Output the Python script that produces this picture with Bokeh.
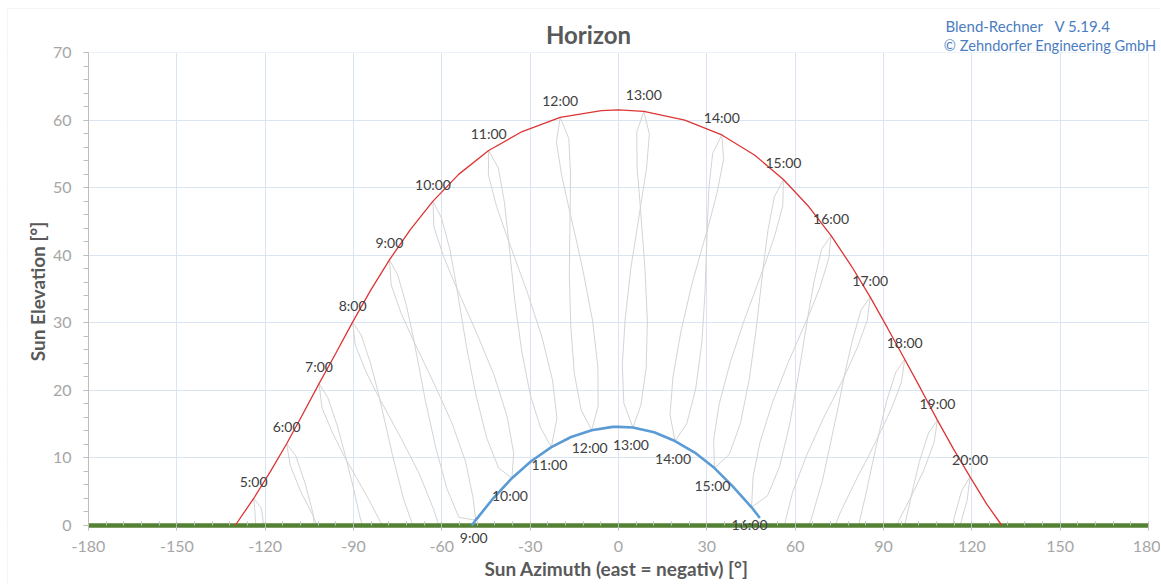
import math
from bokeh.plotting import figure
from bokeh.models import Range1d, SingleIntervalTicker, Label, ColumnDataSource, BoxAnnotation
from bokeh.embed import file_html
from bokeh.resources import INLINE
from bokeh.core.properties import value

# ---------------- data ----------------
x_ticks = [-180, -150, -120, -90, -60, -30, 0, 30, 60, 90, 120, 150, 180]
x_tick_labels = ["-180", "-150", "-120", "-90", "-60", "-30", "0", "30", "60", "90", "120", "150", "180"]

horizon_az = [-180, 180]
horizon_el = [0, 0]

# summer solstice sun path (red)
summer_az = [-130.2, -123.9, -118.2, -112.7, -107.2, -101.7, -96.0, -90.3, -84.2, -77.8, -70.7, -63.0,
             -54.2, -44.1, -32.7, -19.8, -5.8, 0.0, 8.6, 22.5, 35.1, 46.3, 56.0, 64.6, 72.2, 79.1,
             85.5, 91.4, 97.2, 102.8, 108.3, 113.8, 119.4, 125.0, 130.2]
summer_el = [0.0, 4.0, 8.0, 12.1, 16.5, 21.0, 25.5, 30.1, 34.8, 39.3, 43.8, 48.0,
             52.0, 55.5, 58.3, 60.4, 61.4, 61.5, 61.3, 60.0, 57.8, 54.8, 51.2, 47.2, 42.9, 38.4,
             33.8, 29.2, 24.6, 20.1, 15.6, 11.3, 7.2, 3.2, 0.0]

# winter solstice sun path (blue)
winter_az = [-49.8, -48.5, -42.4, -36.2, -29.7, -22.8, -16.1, -9.1, -2.0, 0.0, 4.9, 12.1, 19.2,
             25.9, 32.6, 38.8, 45.2, 48.0]
winter_el = [0.0, 0.8, 4.1, 7.0, 9.5, 11.6, 13.1, 14.1, 14.6, 14.6, 14.5, 13.8, 12.5,
             10.8, 8.5, 5.8, 2.7, 1.1]

summer_hours = ["5:00", "6:00", "7:00", "8:00", "9:00", "10:00", "11:00", "12:00", "13:00",
                "14:00", "15:00", "16:00", "17:00", "18:00", "19:00", "20:00"]
summer_hour_az = [-123.9, -112.7, -101.7, -90.3, -77.8, -63.0, -44.1, -19.8, 8.6,
                  35.1, 56.0, 72.2, 85.5, 97.2, 108.3, 119.4]
summer_hour_el = [4.0, 12.1, 21.0, 30.1, 39.3, 48.0, 55.5, 60.4, 61.3,
                  57.8, 51.2, 42.9, 33.8, 24.6, 15.6, 7.2]

winter_hours = ["9:00", "10:00", "11:00", "12:00", "13:00", "14:00", "15:00", "16:00"]
winter_hour_az = [-48.5, -36.2, -22.8, -9.1, 4.9, 19.2, 32.6, 45.2]
winter_hour_el = [0.8, 7.0, 11.6, 14.1, 14.5, 12.5, 8.5, 2.7]

# hour lines over the year (analemmas), (azimuth, elevation)
ana_05 = [(-120.6, 0.0), (-120.9, 1.5), (-121.5, 2.7), (-123.9, 4.0), (-123.5, 2.2), (-123.2, 0.0)]
ana_06 = [(-103.3, 0.0), (-103.7, 1.7), (-106.4, 6.2), (-109.6, 10.3), (-112.7, 12.1), (-111.5, 8.9),
          (-107.9, 5.0), (-103.9, 1.6), (-102.3, 0.0)]
ana_07 = [(-87.0, 0.0), (-88.0, 1.6), (-90.0, 5.5), (-92.8, 10.4), (-95.6, 14.9), (-98.8, 19.0),
          (-101.7, 21.0), (-100.7, 17.4), (-97.1, 13.7), (-93.1, 10.2), (-88.5, 6.7), (-85.0, 4.0),
          (-80.2, 0.0)]
ana_08 = [(-69.8, 0.0), (-73.0, 3.9), (-76.8, 10.5), (-81.5, 19.5), (-84.2, 24.0), (-87.4, 28.2),
          (-90.3, 30.1), (-89.4, 26.7), (-85.8, 22.8), (-81.8, 19.3), (-73.7, 12.8), (-67.7, 7.7),
          (-62.8, 2.4), (-61.0, 0.0)]
ana_09 = [(-77.8, 39.3), (-75.0, 37.1), (-72.1, 32.7), (-69.7, 27.9), (-65.6, 18.5), (-62.1, 11.6),
          (-58.3, 5.5), (-54.2, 1.2), (-48.5, 0.8), (-49.4, 4.1), (-51.9, 9.4), (-56.5, 15.1),
          (-62.2, 20.6), (-70.0, 27.7), (-73.9, 31.5), (-77.2, 35.6), (-77.8, 39.3)]
ana_10 = [(-63.0, 48.0), (-60.1, 45.5), (-57.3, 40.9), (-55.2, 35.9), (-51.6, 26.4), (-48.4, 19.3),
          (-44.8, 13.0), (-40.7, 8.5), (-36.2, 7.0), (-35.6, 10.7), (-37.8, 16.1), (-42.2, 22.2),
          (-47.8, 28.1), (-55.6, 35.8), (-59.4, 39.8), (-62.7, 44.2), (-63.0, 48.0)]
ana_11 = [(-44.1, 55.5), (-40.8, 52.9), (-38.8, 48.0), (-37.5, 42.9), (-35.2, 33.2), (-32.9, 25.9),
          (-30.0, 19.4), (-26.5, 14.5), (-22.8, 11.6), (-20.9, 15.9), (-22.4, 21.5), (-26.0, 27.9),
          (-30.9, 34.4), (-37.9, 42.8), (-41.4, 47.2), (-44.2, 51.9), (-44.1, 55.5)]
ana_12 = [(-19.8, 60.4), (-16.9, 57.3), (-16.3, 52.2), (-16.4, 47.0), (-16.6, 41.2), (-16.7, 37.0),
          (-16.2, 29.4), (-15.0, 22.5), (-12.7, 17.1), (-9.1, 14.1), (-6.9, 17.7), (-7.0, 23.4),
          (-8.8, 30.3), (-12.0, 37.6), (-14.0, 41.6), (-16.8, 46.9), (-19.3, 51.8), (-21.1, 56.8),
          (-19.8, 60.4)]
ana_13 = [(8.6, 61.3), (10.5, 57.9), (9.5, 52.8), (7.7, 47.8), (4.2, 38.1), (2.3, 30.7), (1.3, 23.8),
          (1.8, 18.1), (4.9, 14.5), (7.6, 17.8), (9.4, 23.3), (9.8, 30.3), (9.0, 37.9), (7.3, 47.8),
          (6.3, 53.0), (6.2, 58.2), (8.6, 61.3)]
ana_14 = [(35.1, 57.8), (35.7, 54.2), (33.5, 49.3), (30.7, 44.6), (24.9, 35.7), (21.2, 28.7),
          (18.5, 22.0), (17.5, 16.4), (19.2, 12.5), (23.2, 15.1), (26.2, 20.2), (28.3, 27.0),
          (29.4, 34.6), (30.2, 44.7), (30.7, 50.0), (32.0, 55.1), (35.1, 57.8)]
ana_15 = [(56.0, 51.2), (55.8, 47.3), (53.0, 42.8), (49.6, 38.5), (42.8, 30.5), (38.0, 24.2),
          (34.2, 18.0), (32.3, 12.6), (32.6, 8.5), (37.6, 10.5), (41.4, 15.1), (44.4, 21.6),
          (46.7, 28.9), (49.3, 38.7), (50.8, 43.8), (52.9, 48.6), (56.0, 51.2)]
ana_16 = [(72.2, 42.9), (71.4, 39.5), (68.4, 35.2), (64.8, 31.3), (57.5, 24.0), (52.3, 18.2),
          (48.1, 12.4), (45.7, 7.2), (45.2, 2.7), (50.6, 4.4), (54.7, 8.7), (58.1, 14.9),
          (61.0, 22.0), (64.5, 31.4), (66.5, 36.3), (69.0, 40.9), (72.2, 42.9)]
ana_17 = [(56.3, 0.0), (59.1, 4.9), (63.9, 10.4), (69.5, 15.8), (72.9, 18.7), (77.3, 22.6),
          (81.1, 26.3), (84.5, 30.4), (85.5, 33.8), (82.4, 31.9), (79.5, 27.5), (77.0, 22.8),
          (74.6, 17.5), (72.7, 13.6), (69.3, 6.7), (65.3, 0.7), (64.4, 0.0)]
ana_18 = [(73.6, 0.0), (75.4, 2.0), (81.1, 7.1), (84.5, 9.9), (88.8, 13.7), (92.7, 17.3), (96.1, 21.2),
          (97.2, 24.6), (94.2, 22.7), (91.1, 18.5), (88.6, 13.9), (86.0, 8.7), (84.1, 4.8), (81.5, 0.0)]
ana_19 = [(94.4, 0.0), (95.5, 1.0), (99.9, 4.7), (103.8, 8.3), (107.2, 12.3), (108.3, 15.6),
          (105.3, 13.7), (102.2, 9.5), (99.7, 4.9), (97.2, 0.0)]
ana_20 = [(116.0, 0.0), (118.4, 3.7), (119.4, 7.2), (116.5, 5.1), (113.8, 0.8), (113.6, 0.0)]

analemmas = [ana_05, ana_06, ana_07, ana_08, ana_09, ana_10, ana_11, ana_12,
             ana_13, ana_14, ana_15, ana_16, ana_17, ana_18, ana_19, ana_20]

# ---------------- layout (page pixels) ----------------
W, H = 1160, 583          # figure size
X0, Y0 = 0, 1             # where the figure lands on the page
PL, PR, PT, PB = 88, 1148, 53, 526   # plot area edges on the page (axes -180..180, 0..70)
KX = (PR - PL) / 360.0
KY = (PB - PT) / 70.0


def dx(px):
    return -180 + (px - PL) / KX


def dy(py):
    return (PB - py) / KY


FONT = "Lato"
p = figure(width=W, height=H, output_backend="svg", toolbar_location=None, title=None,
           x_range=Range1d(dx(X0), dx(X0 + W)), y_range=Range1d(dy(Y0 + H), dy(Y0)),
           min_border_left=0, min_border_right=0, min_border_top=0, min_border_bottom=0)
p.background_fill_color = "white"
p.border_fill_color = "white"
p.outline_line_color = None

p.xaxis.ticker = SingleIntervalTicker(interval=30, num_minor_ticks=5)
p.yaxis.ticker = SingleIntervalTicker(interval=10, num_minor_ticks=5)
p.xaxis.major_label_overrides = {t: s for t, s in zip(x_ticks, x_tick_labels)}
p.xaxis.fixed_location = 0
p.yaxis.fixed_location = -180
p.xaxis.bounds = (-180, 180)
p.yaxis.bounds = (0, 70)

grid_col = "#D9E5F3"
p.xgrid.grid_line_color = grid_col
p.ygrid.grid_line_color = grid_col

# mask grid lines outside the plot area
for kw in (dict(bottom=70), dict(top=0), dict(right=-180), dict(left=180)):
    p.add_layout(BoxAnnotation(fill_color="white", fill_alpha=1, line_color=None, level="underlay", **kw))

# chart-area border (top/left edges)
p.add_layout(BoxAnnotation(left=dx(7), right=dx(2000), top=dy(9), bottom=dy(2000),
                           fill_alpha=0, line_color="#D9D9D9", line_width=1))

for ax in (p.xaxis[0], p.yaxis[0]):
    ax.major_label_text_font = FONT
    ax.major_label_text_font_size = "16px"
    ax.major_label_text_color = "#A6A6A6"
    ax.major_tick_line_color = "#BFBFBF"
    ax.minor_tick_line_color = "#BFBFBF"
    ax.axis_line_color = "#BFBFBF"

p.xaxis.axis_line_color = None
p.xaxis.major_tick_in = 0
p.xaxis.major_tick_out = 5
p.xaxis.minor_tick_in = 4
p.xaxis.minor_tick_out = 0
p.xaxis.major_label_standoff = 10

p.yaxis.major_tick_in = 0
p.yaxis.major_tick_out = 5
p.yaxis.minor_tick_in = 0
p.yaxis.minor_tick_out = 5
p.yaxis.major_label_standoff = 12

# analemmas
xs = [[pt[0] for pt in a] for a in analemmas]
ys = [[pt[1] for pt in a] for a in analemmas]
p.multi_line(xs, ys, line_color="#D4D4D4", line_width=1)

# horizon, summer path, winter path
p.line(horizon_az, horizon_el, line_color="#548235", line_width=4.5)
p.line(summer_az, summer_el, line_color="#DE3434", line_width=1.3)
p.line(winter_az, winter_el, line_color="#5B9BD5", line_width=2.6)

# hour labels
src_s = ColumnDataSource(dict(x=summer_hour_az, y=summer_hour_el, t=summer_hours))
src_w = ColumnDataSource(dict(x=winter_hour_az, y=winter_hour_el, t=winter_hours))
p.text(x="x", y="y", text="t", source=src_s, text_font=value(FONT), text_font_size="14px",
       text_color="#404040", text_align="center", text_baseline="middle", y_offset=-17)
p.text(x="x", y="y", text="t", source=src_w, text_font=value(FONT), text_font_size="14px",
       text_color="#404040", text_align="center", text_baseline="middle", y_offset=17, x_offset=-2)


def lab(text, px, py, size, color, bold=False, align="left", angle=0.0):
    p.add_layout(Label(text=text, x=dx(px), y=dy(py),
                       text_font=FONT, text_font_size=size, text_color=color,
                       text_font_style="bold" if bold else "normal",
                       text_align=align, text_baseline="middle", angle=angle))


lab("Horizon", 588, 35, "24px", "#595959", bold=True, align="center")
lab("Blend-Rechner", 945, 26, "15px", "#4A7DC0")
lab("V 5.19.4", 1054, 26, "15px", "#4A7DC0")
lab("\u00a9 Zehndorfer Engineering GmbH", 1156, 46, "14.6px", "#4A7DC0", align="right")
lab("Sun Azimuth (east = negativ) [\u00b0]", 616, 569, "19px", "#595959", bold=True, align="center")
lab("Sun Elevation [\u00b0]", 37, 292, "19px", "#595959", bold=True, align="center", angle=math.pi / 2)

open("out.html", "w").write(file_html(p, INLINE))
